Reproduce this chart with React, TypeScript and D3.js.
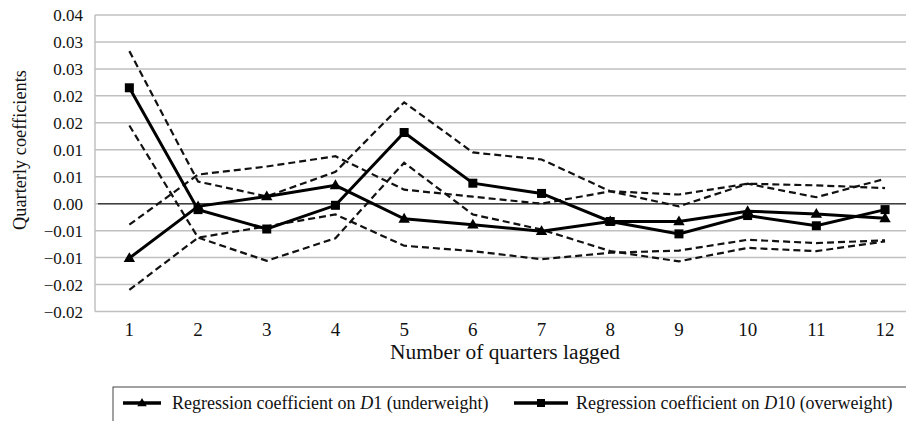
import React from "react";
import * as d3 from "d3";

const quarters = [1, 2, 3, 4, 5, 6, 7, 8, 9, 10, 11, 12];
const d1Coef = [-0.0101, -0.0005, 0.00135, 0.0034, -0.0028, -0.0039, -0.0051, -0.0033, -0.0033, -0.0014, -0.0019, -0.0027];
const d1Upper = [-0.0039, 0.0054, 0.0069, 0.0088, 0.0026, 0.0013, 0.0, 0.0023, 0.0017, 0.0037, 0.0034, 0.0029];
const d1Lower = [-0.016, -0.0063, -0.0042, -0.002, -0.0078, -0.0088, -0.0103, -0.0091, -0.0087, -0.0067, -0.0073, -0.0068];
const d10Coef = [0.0215, -0.0011, -0.0047, -0.0003, 0.0132, 0.0038, 0.0019, -0.0033, -0.0056, -0.0022, -0.0041, -0.0011];
const d10Upper = [0.0283, 0.0041, 0.00135, 0.0059, 0.0188, 0.0095, 0.0082, 0.0023, -0.0005, 0.0037, 0.0012, 0.0046];
const d10Lower = [0.0145, -0.0063, -0.0106, -0.0064, 0.0076, -0.002, -0.0048, -0.0088, -0.0107, -0.0082, -0.0088, -0.007];
const yTicks = [0.035, 0.03, 0.025, 0.02, 0.015, 0.01, 0.005, 0, -0.005, -0.01, -0.015, -0.02];
const yTickLabels = ["0.04", "0.03", "0.03", "0.02", "0.02", "0.01", "0.01", "0.00", "\u22120.01", "\u22120.01", "\u22120.02", "\u22120.02"];

const FONT = '"Liberation Serif", "Times New Roman", serif';
const fs = (size: number) => ({ fontFamily: FONT, fontSize: size + "px" });

export default function App() {
  const left = 95, right = 919.4, top = 15, bottom = 311.5;
  const x = d3.scaleBand<number>().domain(quarters).range([left, right]).padding(0);
  const cx = (q: number) => (x(q) as number) + x.bandwidth() / 2;
  const y = d3.scaleLinear().domain([-0.02, 0.035]).range([bottom, top]);
  const line = (vals: number[]) =>
    d3.line<number>().x((_, i) => cx(quarters[i])).y((v) => y(v))(vals) as string;

  const tri = (px: number, py: number, s = 6) =>
    `M${px},${py - s} L${px + s * 0.95},${py + s * 0.65} L${px - s * 0.95},${py + s * 0.65} Z`;

  return (
    <svg width={906} height={421} style={{ position: "absolute", left: 0, top: 0, background: "#fff" }}>
      <rect x={0} y={0} width={906} height={421} fill="#fff" />
      {yTicks.map((t, i) => (
        <line key={i} x1={left} x2={right} y1={y(t)} y2={y(t)} stroke="#c0c0c0" strokeWidth={1.5} />
      ))}
      <line x1={left} x2={left} y1={top} y2={bottom} stroke="#c0c0c0" strokeWidth={1.5} />
      <line x1={98} x2={right} y1={y(0)} y2={y(0)} stroke="#404040" strokeWidth={1.6} />
      {yTicks.map((t, i) => (
        <text key={i} x={83} y={y(t) + 6} textAnchor="end" fill="#111" style={fs(17)}>
          {yTickLabels[i]}
        </text>
      ))}
      {quarters.map((q) => (
        <text key={q} x={cx(q)} y={336} textAnchor="middle" fill="#111" style={fs(19)}>
          {q}
        </text>
      ))}
      <text x={505} y={359} textAnchor="middle" fill="#111" textLength={230} lengthAdjust="spacingAndGlyphs" style={fs(20)}>
        Number of quarters lagged
      </text>
      <text transform={`translate(26,150) rotate(-90)`} textAnchor="middle" fill="#111" textLength={160} lengthAdjust="spacingAndGlyphs" style={fs(18)}>
        Quarterly coefficients
      </text>
      {[d1Upper, d1Lower, d10Upper, d10Lower].map((s, i) => (
        <path key={i} d={line(s)} fill="none" stroke="#111" strokeWidth={2.2} strokeDasharray="7,4" />
      ))}
      <path d={line(d1Coef)} fill="none" stroke="#000" strokeWidth={3} />
      <path d={line(d10Coef)} fill="none" stroke="#000" strokeWidth={3} />
      {d1Coef.map((v, i) => (
        <path key={i} d={tri(cx(quarters[i]), y(v))} fill="#000" />
      ))}
      {d10Coef.map((v, i) => (
        <rect key={i} x={cx(quarters[i]) - 4.5} y={y(v) - 4.5} width={9} height={9} fill="#000" />
      ))}
      <rect x={113} y={387} width={820} height={60} fill="none" stroke="#444" strokeWidth={1} />
      <line x1={123} x2={161} y1={403} y2={403} stroke="#000" strokeWidth={3.5} />
      <path d={tri(142, 403, 5)} fill="#000" />
      <text x={172} y={408.5} fill="#111" style={fs(18)}>
        Regression coefficient on <tspan fontStyle="italic">D</tspan>1 (underweight)
      </text>
      <line x1={514} x2={568} y1={403} y2={403} stroke="#000" strokeWidth={3.5} />
      <rect x={537} y={399} width={8} height={8} fill="#000" />
      <text x={576} y={408.5} fill="#111" style={fs(18)}>
        Regression coefficient on <tspan fontStyle="italic">D</tspan>10 (overweight)
      </text>
    </svg>
  );
}
